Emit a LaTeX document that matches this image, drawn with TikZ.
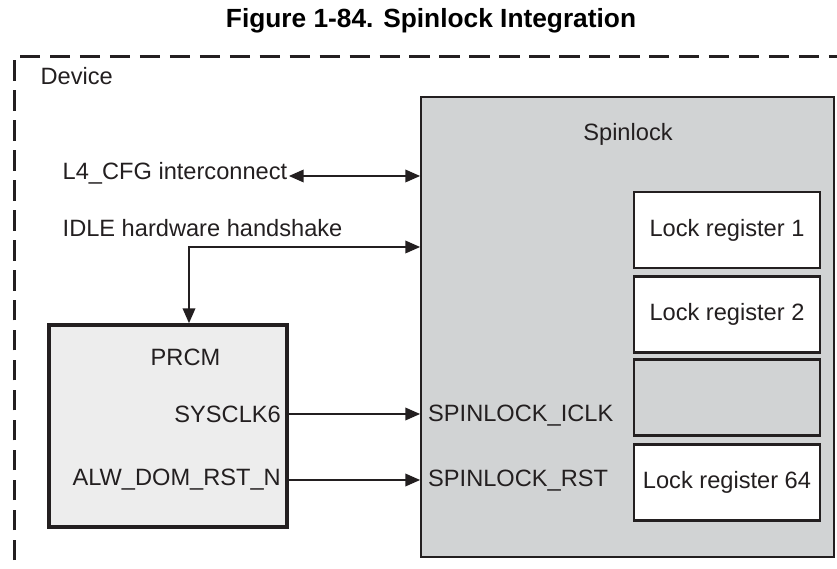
\documentclass[tikz,border=0pt]{standalone}
\usepackage{fontspec}
\setmainfont{Liberation Sans}
\usetikzlibrary{positioning,arrows.meta,calc}

\definecolor{spingray}{RGB}{209,211,212}
\definecolor{prcmgray}{RGB}{237,237,237}
\definecolor{inkdark}{RGB}{35,31,32}

\begin{document}
\begin{tikzpicture}[
    x=0.025cm, y=-0.025cm,
    font=\fontsize{16.8}{20}\selectfont, text=inkdark,
    txt/.style={inner sep=1pt},
    spinbox/.style={rectangle, draw=inkdark, fill=spingray, line width=1.2pt,
                    minimum width=10.325cm, minimum height=11.5cm, inner sep=0pt},
    prcmbox/.style={rectangle, draw=inkdark, fill=prcmgray, line width=2.6pt,
                    minimum width=5.95cm, minimum height=5.05cm, inner sep=0pt},
    lockbox/.style={rectangle, draw=inkdark, fill=white, line width=1.8pt,
                    minimum width=4.65cm, minimum height=1.9cm, inner sep=0pt},
    devframe/.style={draw=inkdark, line width=2pt, dash pattern=on 14.5pt off 6.8pt},
    sig/.style={draw=inkdark, line width=1pt, -{Triangle[length=10.5pt,width=9pt]}},
    sigboth/.style={draw=inkdark, line width=1pt,
                    {Triangle[length=10.5pt,width=9pt]}-{Triangle[length=10.5pt,width=9pt]}}
]
\useasboundingbox (0,0) rectangle (837,569);

% Title
\node[txt, font=\fontsize{18.7}{22}\selectfont\bfseries, text=black, anchor=base]
    (title) at (431,28) {Figure 1-84. Spinlock Integration};

% Device frame (runs off the page right and bottom)
\begin{scope}
    \clip (0,0) rectangle (837,569);
    \draw[devframe] (14.5,620) -- (14.5,56.5) -- (880,56.5);
\end{scope}
\node[txt, anchor=base west] (device) at (39,85) {Device};

% Spinlock module
\node[spinbox] (spin) at (627.5,327) {};
\node[txt, anchor=base] (spinlbl) at (628,141) {Spinlock};

% Lock registers
\node[lockbox] (lock1) at (727,230) {Lock register 1};
\node[lockbox] (lock2) at (727,314.5) {Lock register 2};
\node[lockbox, fill=spingray] (lockdots) at (727,397.5) {};
\node[lockbox] (lock64) at (727,482.5) {Lock register 64};

% PRCM
\node[prcmbox] (prcm) at (168,426) {};
\node[txt, anchor=base] (prcmlbl) at (185.5,366) {PRCM};
\node[txt, anchor=east] (sysclk) at (282.5,414) {SYSCLK6};
\node[txt, anchor=east] (alwrst) at (282.5,480) {ALW\_DOM\_RST\_N};

% Spinlock ports
\node[txt, anchor=west] (iclk) at (426.5,416) {SPINLOCK\_ICLK};
\node[txt, anchor=west] (srst) at (426.5,481) {SPINLOCK\_RST};

% External signals
\node[txt, anchor=base west] (l4) at (61,180) {L4\_CFG interconnect};
\node[txt, anchor=base west] (idle) at (61,237) {IDLE hardware handshake};
\coordinate (l4arr) at ($(l4.base east)+(0,-4)$);
\coordinate (hsbend) at (189,247);

% Connectors
\draw[sigboth] (l4arr) -- (l4arr -| spin.west);
\draw[sigboth] (hsbend -| spin.west) -- (hsbend) -- (hsbend |- prcm.north);
\draw[sig] (prcm.east |- sysclk.east) -- (spin.west |- sysclk.east);
\draw[sig] (prcm.east |- alwrst.east) -- (spin.west |- alwrst.east);

\end{tikzpicture}
\end{document}
